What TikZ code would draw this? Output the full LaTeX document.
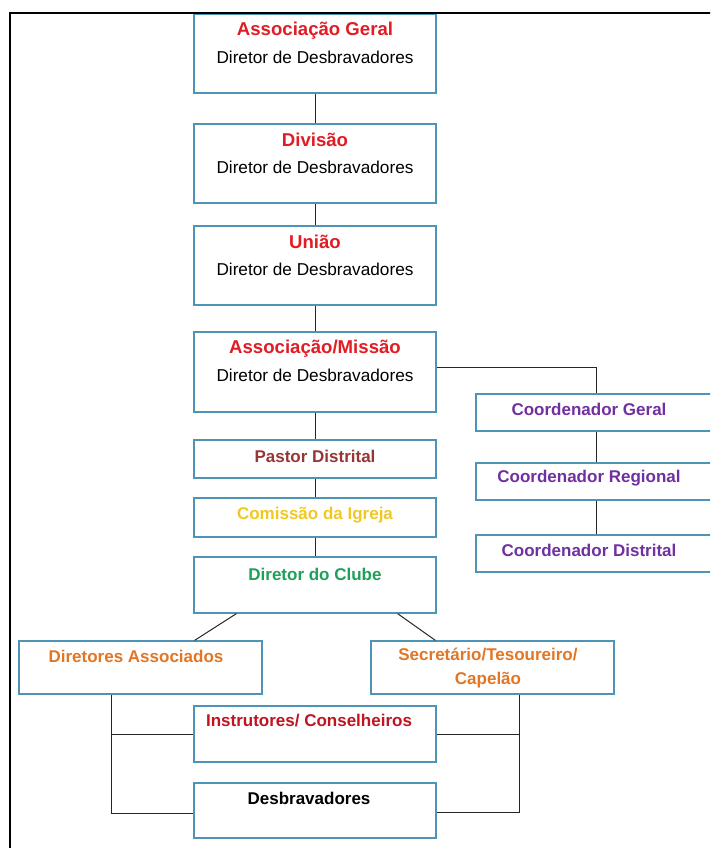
\documentclass[tikz,border=0pt]{standalone}
\usepackage{fontspec}
\setmainfont{Liberation Sans}
\definecolor{boxblue}{RGB}{78,148,182}
\definecolor{tred}{RGB}{225,28,36}
\definecolor{tbrown}{RGB}{150,55,53}
\definecolor{tyellow}{RGB}{240,200,35}
\definecolor{tgreen}{RGB}{30,160,90}
\definecolor{torange}{RGB}{226,118,35}
\definecolor{tdred}{RGB}{192,20,32}
\definecolor{tpurple}{RGB}{112,48,160}
\tikzset{
  box/.style={draw=boxblue, line width=1.3pt, rectangle, inner sep=0pt, fill=white},
  conn/.style={draw=black!85, line width=1pt},
  ttl/.style={font=\fontsize{17}{20}\selectfont\bfseries, inner sep=0pt},
  bigttl/.style={font=\fontsize{18.6}{22}\selectfont\bfseries, inner sep=0pt, text=tred},
  sub/.style={font=\fontsize{17.2}{20}\selectfont, inner sep=0pt, text=black},
  mainbox/.style={box, minimum width=242pt},
  coordbox/.style={box, minimum width=264pt, minimum height=37pt},
}
\begin{document}
\begin{tikzpicture}[x=1pt,y=-1pt]
\useasboundingbox (0,0) rectangle (710,848);
\clip (0,0) rectangle (710,848);
% boxes
\node[mainbox, minimum height=79pt] (b1) at (315,53.5) {};
\node[mainbox, minimum height=79pt] (b2) at (315,163.5) {};
\node[mainbox, minimum height=79pt] (b3) at (315,265.5) {};
\node[mainbox, minimum height=80pt] (b4) at (315,372) {};
\node[mainbox, minimum height=38pt] (b5) at (315,459) {};
\node[mainbox, minimum height=39pt] (b6) at (315,517.5) {};
\node[mainbox, minimum height=56pt] (b7) at (315,585) {};
\node[box, minimum width=243pt, minimum height=53pt] (b8) at (140.5,667.5) {};
\node[box, minimum width=243pt, minimum height=53pt] (b9) at (492.5,667.5) {};
\node[mainbox, minimum height=56pt] (b10) at (315,734) {};
\node[mainbox, minimum height=55pt] (b11) at (315,810.5) {};
\node[coordbox] (c1) at (608,412.5) {};
\node[coordbox] (c2) at (608,481.5) {};
\node[coordbox] (c3) at (608,553.5) {};
% texts
\node[bigttl] (t1a) at (315,31) {Associação Geral};
\node[sub] (t1b) at (315,57) {Diretor de Desbravadores};
\node[bigttl] (t2a) at (315,140) {Divisão};
\node[sub] (t2b) at (315,167) {Diretor de Desbravadores};
\node[bigttl] (t3a) at (315,242) {União};
\node[sub] (t3b) at (315,269) {Diretor de Desbravadores};
\node[bigttl] (t4a) at (315,349) {Associação/Missão};
\node[sub] (t4b) at (315,375) {Diretor de Desbravadores};
\node[ttl, text=tbrown] (t5) at (315,456) {Pastor Distrital};
\node[ttl, text=tyellow] (t6) at (315,515) {Comissão da Igreja};
\node[ttl, text=tgreen] (t7) at (315,574) {Diretor do Clube};
\node[ttl, text=torange] (t8) at (136,656) {Diretores Associados};
\node[ttl, text=torange] (t9a) at (488,654) {Secretário/Tesoureiro/};
\node[ttl, text=torange] (t9b) at (488,680) {Capelão};
\node[ttl, text=tdred] (t10) at (309,721) {Instrutores/ Conselheiros};
\node[ttl, text=black] (t11) at (309,798) {Desbravadores};
\node[ttl, text=tpurple] (tc1) at (589,409) {Coordenador Geral};
\node[ttl, text=tpurple] (tc2) at (589,478) {Coordenador Regional};
\node[ttl, text=tpurple] (tc3) at (589,550) {Coordenador Distrital};
% connectors
\draw[conn] (b1.south) -- (b2.north);
\draw[conn] (b2.south) -- (b3.north);
\draw[conn] (b3.south) -- (b4.north);
\draw[conn] (b4.south) -- (b5.north);
\draw[conn] (b5.south) -- (b6.north);
\draw[conn] (b6.south) -- (b7.north);
\draw[conn] ([yshift=5pt]b4.east) -| ([xshift=-12pt]c1.north);
\draw[conn] ([xshift=-12pt]c1.south) -- ([xshift=-12pt]c2.north);
\draw[conn] ([xshift=-12pt]c2.south) -- ([xshift=-12pt]c3.north);
\draw[conn] ([xshift=43pt]b7.south west) -- ([xshift=-68pt]b8.north east);
\draw[conn] ([xshift=-39pt]b7.south east) -- ([xshift=65pt]b9.north west);
\coordinate (lb) at (111,813);
\coordinate (rb) at (519,812);
\draw[conn] (lb |- b8.south) -- (lb) -- (lb -| b11.west);
\draw[conn] (lb |- b10.west) -- (b10.west);
\draw[conn] (rb |- b9.south) -- (rb) -- (rb -| b11.east);
\draw[conn] (b10.east) -- (b10.east -| rb);
% frame
\draw[line width=2pt, black] (10,849) -- (10,13) -- (711,13);
\end{tikzpicture}
\end{document}
